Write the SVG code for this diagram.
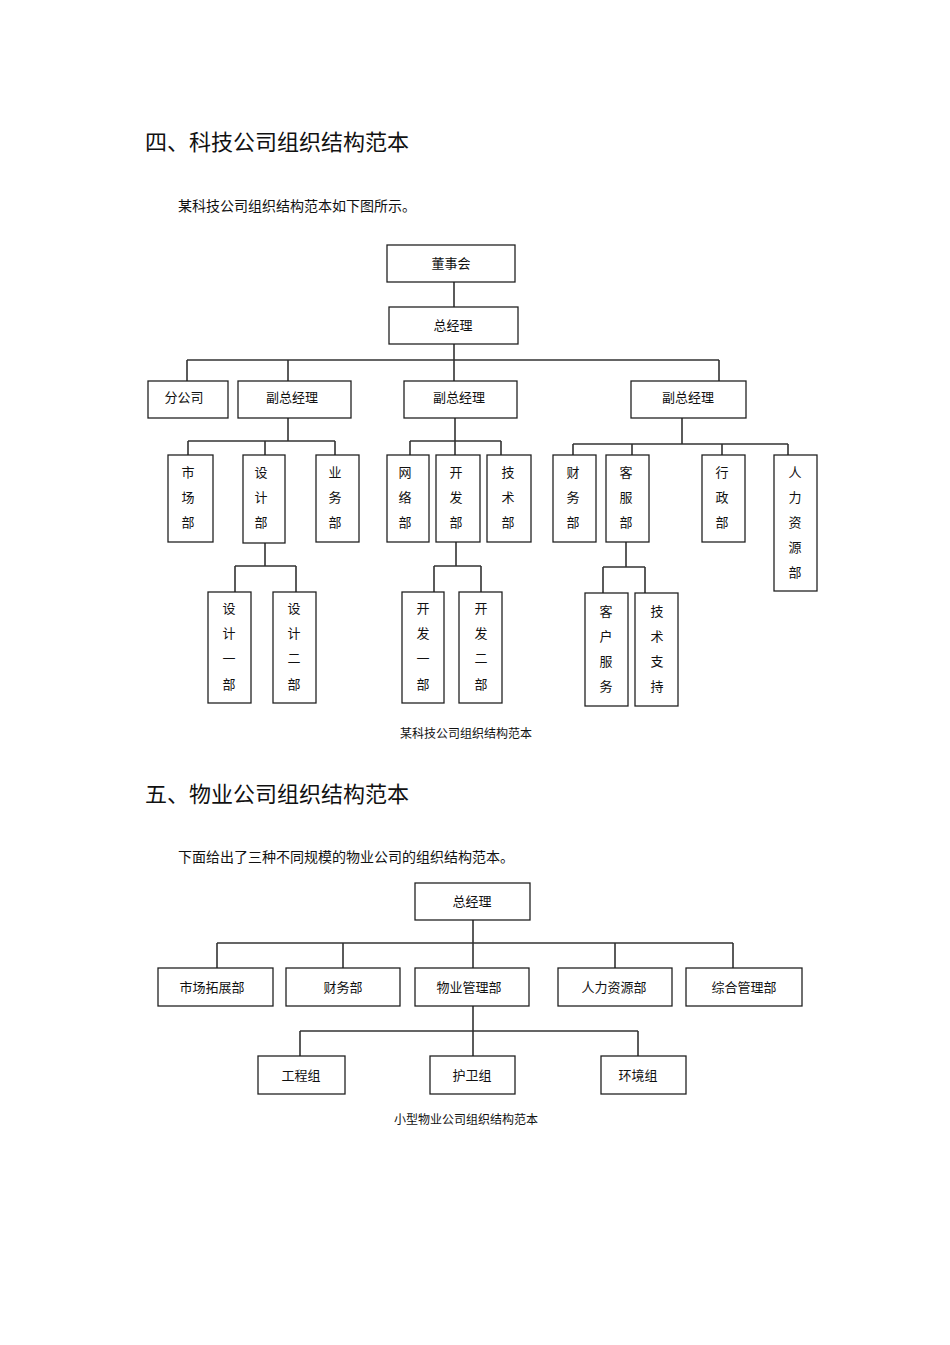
<svg xmlns="http://www.w3.org/2000/svg" width="950" height="1345" viewBox="0 0 950 1345">
<style>
text{font-family:"Liberation Serif","Noto Sans CJK SC",serif;fill:#111}
.h{font-size:22px}.p{font-size:14px}.c{font-size:12px}.n{font-size:13px;text-anchor:middle}
rect{fill:#fff;stroke:#222;stroke-width:1.3}
#conn path{fill:none;stroke:#333;stroke-width:1.6}
</style>
<rect x="0" y="0" width="950" height="1345" style="stroke:none"/>
<text class="h" x="145" y="150">四、科技公司组织结构范本</text>
<text class="p" x="178" y="211">某科技公司组织结构范本如下图所示。</text>
<g id="conn">
<path d="M454 282V307M454 344V381M187 360H719M187 360V381M288 360V381M719 360V381"/>
<path d="M288 418V441M188 441H335M188 441V455M265 441V455M335 441V455"/>
<path d="M265 543V566M235 566H296M235 566V592M296 566V592"/>
<path d="M455 418V455M410 441H501M410 441V455M501 441V455"/>
<path d="M456 542V566M434 566H481M434 566V592M481 566V592"/>
<path d="M682 418V444M573 444H788M573 444V455M632 444V455M722 444V455M788 444V455"/>
<path d="M626 542V567M603 567H645M603 567V593M645 567V593"/>
<path d="M473 920V968M217 943H733M217 943V968M343 943V968M615 943V968M733 943V968"/>
<path d="M473 1006V1056M300 1031H638M300 1031V1056M638 1031V1056"/>
</g>
<g id="n1"><rect x="387" y="245" width="128" height="37"/><text class="n" x="451" y="268">董事会</text></g>
<g id="n2"><rect x="389" y="307" width="129" height="37"/><text class="n" x="453" y="330">总经理</text></g>
<g id="n3"><rect x="148" y="381" width="80" height="37"/><text class="n" x="184" y="402">分公司</text></g>
<g id="n4"><rect x="238" y="381" width="113" height="37"/><text class="n" x="292" y="402">副总经理</text></g>
<g id="n5"><rect x="404" y="381" width="113" height="37"/><text class="n" x="459" y="402">副总经理</text></g>
<g id="n6"><rect x="631" y="381" width="115" height="37"/><text class="n" x="688" y="402">副总经理</text></g>
<g id="n7"><rect x="168" y="455" width="45" height="87"/><text class="n" x="188" y="477">市</text><text class="n" x="188" y="502">场</text><text class="n" x="188" y="527">部</text></g>
<g id="n8"><rect x="243" y="455" width="42" height="88"/><text class="n" x="261" y="477">设</text><text class="n" x="261" y="502">计</text><text class="n" x="261" y="527">部</text></g>
<g id="n9"><rect x="316" y="455" width="43" height="87"/><text class="n" x="335" y="477">业</text><text class="n" x="335" y="502">务</text><text class="n" x="335" y="527">部</text></g>
<g id="n10"><rect x="387" y="455" width="42" height="87"/><text class="n" x="405" y="477">网</text><text class="n" x="405" y="502">络</text><text class="n" x="405" y="527">部</text></g>
<g id="n11"><rect x="436" y="455" width="44" height="87"/><text class="n" x="456" y="477">开</text><text class="n" x="456" y="502">发</text><text class="n" x="456" y="527">部</text></g>
<g id="n12"><rect x="487" y="455" width="44" height="87"/><text class="n" x="508" y="477">技</text><text class="n" x="508" y="502">术</text><text class="n" x="508" y="527">部</text></g>
<g id="n13"><rect x="553" y="455" width="43" height="87"/><text class="n" x="573" y="477">财</text><text class="n" x="573" y="502">务</text><text class="n" x="573" y="527">部</text></g>
<g id="n14"><rect x="606" y="455" width="43" height="87"/><text class="n" x="626" y="477">客</text><text class="n" x="626" y="502">服</text><text class="n" x="626" y="527">部</text></g>
<g id="n15"><rect x="702" y="455" width="43" height="87"/><text class="n" x="722" y="477">行</text><text class="n" x="722" y="502">政</text><text class="n" x="722" y="527">部</text></g>
<g id="n16"><rect x="774" y="455" width="43" height="136"/><text class="n" x="795" y="477">人</text><text class="n" x="795" y="502">力</text><text class="n" x="795" y="527">资</text><text class="n" x="795" y="552">源</text><text class="n" x="795" y="577">部</text></g>
<g id="n17"><rect x="208" y="592" width="43" height="111"/><text class="n" x="229" y="613">设</text><text class="n" x="229" y="638">计</text><text class="n" x="229" y="663">一</text><text class="n" x="229" y="689">部</text></g>
<g id="n18"><rect x="273" y="592" width="43" height="111"/><text class="n" x="294" y="613">设</text><text class="n" x="294" y="638">计</text><text class="n" x="294" y="663">二</text><text class="n" x="294" y="689">部</text></g>
<g id="n19"><rect x="402" y="592" width="42" height="111"/><text class="n" x="423" y="613">开</text><text class="n" x="423" y="638">发</text><text class="n" x="423" y="663">一</text><text class="n" x="423" y="689">部</text></g>
<g id="n20"><rect x="459" y="592" width="43" height="111"/><text class="n" x="481" y="613">开</text><text class="n" x="481" y="638">发</text><text class="n" x="481" y="663">二</text><text class="n" x="481" y="689">部</text></g>
<g id="n21"><rect x="585" y="593" width="43" height="113"/><text class="n" x="606" y="616">客</text><text class="n" x="606" y="641">户</text><text class="n" x="606" y="666">服</text><text class="n" x="606" y="691">务</text></g>
<g id="n22"><rect x="635" y="593" width="43" height="113"/><text class="n" x="657" y="616">技</text><text class="n" x="657" y="641">术</text><text class="n" x="657" y="666">支</text><text class="n" x="657" y="691">持</text></g>
<text class="c" x="466" y="738" text-anchor="middle">某科技公司组织结构范本</text>
<text class="h" x="145" y="802">五、物业公司组织结构范本</text>
<text class="p" x="178" y="862">下面给出了三种不同规模的物业公司的组织结构范本。</text>
<g id="m1"><rect x="415" y="883" width="115" height="37"/><text class="n" x="472" y="906">总经理</text></g>
<g id="m2"><rect x="158" y="968" width="115" height="38"/><text class="n" x="212" y="992">市场拓展部</text></g>
<g id="m3"><rect x="286" y="968" width="114" height="38"/><text class="n" x="343" y="992">财务部</text></g>
<g id="m4"><rect x="415" y="968" width="114" height="38"/><text class="n" x="469" y="992">物业管理部</text></g>
<g id="m5"><rect x="558" y="968" width="114" height="38"/><text class="n" x="614" y="992">人力资源部</text></g>
<g id="m6"><rect x="686" y="968" width="116" height="38"/><text class="n" x="744" y="992">综合管理部</text></g>
<g id="m7"><rect x="258" y="1056" width="87" height="38"/><text class="n" x="301" y="1080">工程组</text></g>
<g id="m8"><rect x="430" y="1056" width="85" height="38"/><text class="n" x="472" y="1080">护卫组</text></g>
<g id="m9"><rect x="601" y="1056" width="85" height="38"/><text class="n" x="638" y="1080">环境组</text></g>
<text class="c" x="466" y="1124" text-anchor="middle">小型物业公司组织结构范本</text>
</svg>
